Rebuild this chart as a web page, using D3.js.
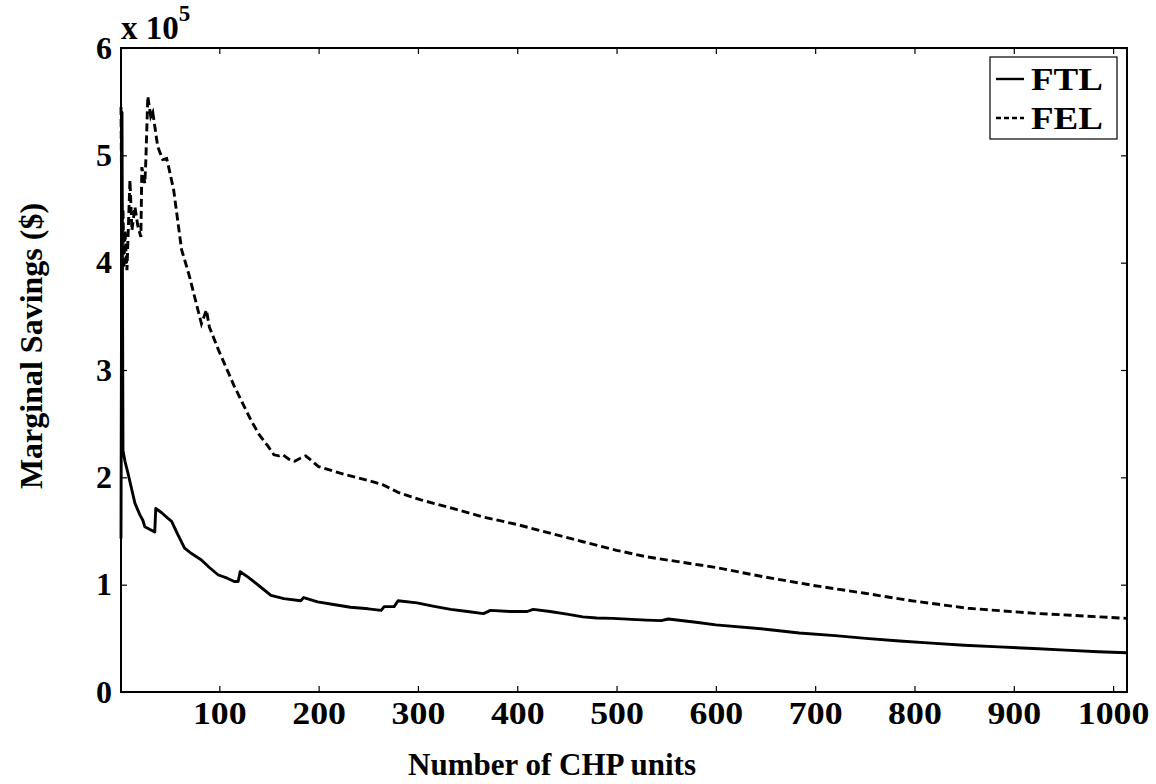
<!DOCTYPE html>
<html>
<head>
<meta charset="utf-8">
<script src="https://cdn.jsdelivr.net/npm/d3@7"></script>
<style>
  body { margin: 0; background: #fff; }
</style>
</head>
<body>
<div id="chart"></div>
<script>
// Marginal savings, in units of 10^5 $
const ftlUnits = [1, 2, 3, 5, 8, 12, 15, 20, 23, 25, 35, 36, 42, 48, 52, 58, 65, 72, 82, 90, 99, 108, 115, 119, 121, 129, 140, 152, 165, 182, 185, 199, 215, 232, 250, 263, 266, 276, 280, 299, 315, 333, 350, 366, 373, 393, 410, 416, 433, 450, 466, 480, 496, 530, 545, 552, 580, 600, 650, 684, 720, 751, 785, 817, 850, 885, 920, 952, 985, 1014];
const ftlSavings = [1.43, 5.4, 2.25, 2.15, 2.04, 1.88, 1.76, 1.65, 1.6, 1.54, 1.49, 1.71, 1.67, 1.62, 1.59, 1.47, 1.34, 1.29, 1.23, 1.16, 1.09, 1.06, 1.03, 1.03, 1.12, 1.07, 0.99, 0.9, 0.87, 0.85, 0.88, 0.84, 0.815, 0.79, 0.775, 0.76, 0.795, 0.795, 0.85, 0.83, 0.8, 0.77, 0.75, 0.73, 0.76, 0.75, 0.75, 0.77, 0.75, 0.725, 0.7, 0.69, 0.686, 0.67, 0.665, 0.68, 0.65, 0.625, 0.585, 0.55, 0.525, 0.5, 0.475, 0.455, 0.435, 0.42, 0.405, 0.39, 0.375, 0.365];

const felUnits = [1, 2, 3, 4, 5, 7, 10, 12, 15, 18, 21, 22, 25, 26, 28, 31, 33, 38, 43, 47, 49, 54, 62, 64, 70, 76, 82, 87, 90, 99, 107, 115, 124, 132, 140, 149, 155, 160, 164, 170, 176, 182, 187, 200, 225, 250, 265, 280, 303, 335, 366, 400, 433, 466, 500, 530, 565, 600, 650, 700, 750, 797, 854, 921, 971, 1014];
const felSavings = [5.45, 4.2, 4.5, 3.95, 4.3, 3.93, 4.77, 4.3, 4.52, 4.34, 4.24, 4.89, 4.74, 4.95, 5.55, 5.36, 5.4, 5.08, 4.96, 4.97, 4.89, 4.68, 4.12, 4.06, 3.87, 3.65, 3.43, 3.56, 3.4, 3.19, 3.02, 2.85, 2.68, 2.53, 2.4, 2.29, 2.21, 2.2, 2.21, 2.17, 2.15, 2.18, 2.2, 2.1, 2.03, 1.97, 1.93, 1.86, 1.79, 1.71, 1.63, 1.56, 1.48, 1.4, 1.32, 1.26, 1.21, 1.16, 1.07, 0.99, 0.92, 0.85, 0.78, 0.733, 0.708, 0.686];

const xTicks = [100, 200, 300, 400, 500, 600, 700, 800, 900, 1000];
const yTicks = [0, 1, 2, 3, 4, 5, 6];
const seriesNames = ["FTL", "FEL"];

const width = 1156, height = 784;
const margin = { top: 48, right: 29, bottom: 92, left: 121 };
const serif = '"Liberation Serif", "Times New Roman", Times, serif';

const svg = d3.select("#chart").append("svg")
  .attr("width", width)
  .attr("height", height)
  .style("font-family", serif)
  .style("font-weight", "bold");

const x = d3.scaleLinear().domain([1, 1014]).range([margin.left, width - margin.right]);
const y = d3.scaleLinear().domain([0, 6]).range([height - margin.bottom, margin.top]);

const tickLen = 6;

const styleLabels = g => g.selectAll("text")
  .style("font-family", serif)
  .style("font-weight", "bold")
  .style("font-size", "32px")
  .attr("fill", "#000");

// axes with inward ticks (MATLAB box style)
svg.append("g")
  .attr("transform", `translate(0,${height - margin.bottom})`)
  .call(d3.axisBottom(x).tickValues(xTicks).tickSizeInner(-tickLen).tickSizeOuter(0).tickPadding(9).tickFormat(d3.format("d")))
  .call(g => g.select(".domain").remove())
  .call(styleLabels)
  .call(g => g.selectAll("text").attr("transform", "scale(1.12,1)"));

svg.append("g")
  .attr("transform", `translate(0,${margin.top})`)
  .call(d3.axisTop(x).tickValues(xTicks).tickSizeInner(-tickLen).tickSizeOuter(0).tickFormat(""))
  .call(g => g.select(".domain").remove());

svg.append("g")
  .attr("transform", `translate(${margin.left},0)`)
  .call(d3.axisLeft(y).tickValues(yTicks).tickSizeInner(-tickLen).tickSizeOuter(0).tickPadding(9).tickFormat(d3.format("d")))
  .call(g => g.select(".domain").remove())
  .call(styleLabels);

svg.append("g")
  .attr("transform", `translate(${width - margin.right},0)`)
  .call(d3.axisRight(y).tickValues(yTicks).tickSizeInner(-tickLen).tickSizeOuter(0).tickFormat(""))
  .call(g => g.select(".domain").remove());

svg.selectAll(".tick line").attr("stroke", "#000").attr("stroke-width", 1.2);

// lines
const line = d3.line().x(d => x(d[0])).y(d => y(d[1]));

svg.append("path")
  .datum(ftlUnits.map((n, i) => [n, ftlSavings[i]]))
  .attr("fill", "none")
  .attr("stroke", "#000")
  .attr("stroke-width", 2.9)
  .attr("stroke-linejoin", "round")
  .attr("d", line);

svg.append("path")
  .datum(felUnits.map((n, i) => [n, felSavings[i]]))
  .attr("fill", "none")
  .attr("stroke", "#000")
  .attr("stroke-width", 2.9)
  .attr("stroke-dasharray", "8,4")
  .attr("d", line);

// plot box
svg.append("rect")
  .attr("x", margin.left)
  .attr("y", margin.top)
  .attr("width", width - margin.left - margin.right)
  .attr("height", height - margin.top - margin.bottom)
  .attr("fill", "none")
  .attr("stroke", "#000")
  .attr("stroke-width", 2);

// exponent label
const expo = svg.append("text")
  .attr("x", margin.left)
  .attr("y", 39)
  .style("font-size", "33px");
expo.append("tspan").text("x 10");
expo.append("tspan").attr("dy", -18).style("font-size", "23px").text("5");

// axis titles
svg.append("text")
  .attr("x", 552)
  .attr("y", 775)
  .attr("text-anchor", "middle")
  .style("font-size", "31px")
  .text("Number of CHP units");

svg.append("text")
  .attr("transform", `translate(42,346) rotate(-90)`)
  .attr("text-anchor", "middle")
  .style("font-size", "32px")
  .text("Marginal Savings ($)");

// legend
const legend = svg.append("g");
legend.append("rect")
  .attr("x", 990).attr("y", 57)
  .attr("width", 127).attr("height", 82)
  .attr("fill", "#fff")
  .attr("stroke", "#000")
  .attr("stroke-width", 1.2);

seriesNames.forEach((name, i) => {
  const ly = 79 + i * 39;
  legend.append("line")
    .attr("x1", 996).attr("x2", 1024)
    .attr("y1", ly).attr("y2", ly)
    .attr("stroke", "#000")
    .attr("stroke-width", 2.4)
    .attr("stroke-dasharray", i === 1 ? "5,3" : null);
  legend.append("text")
    .attr("x", 1031)
    .attr("y", ly + 11)
    .attr("textLength", 72)
    .attr("lengthAdjust", "spacingAndGlyphs")
    .style("font-size", "31px")
    .text(name);
});
</script>
</body>
</html>
